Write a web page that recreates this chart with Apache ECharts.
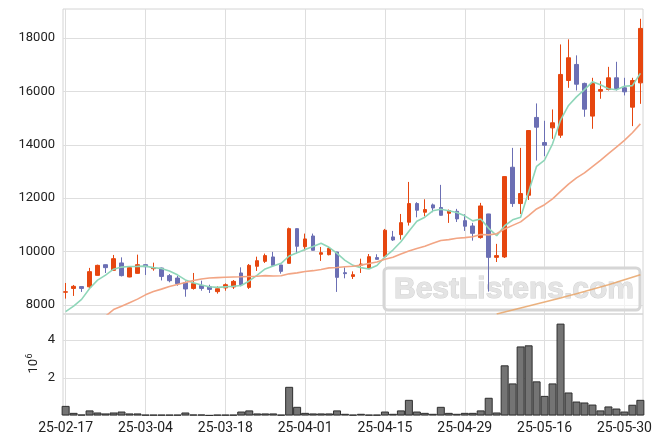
<!DOCTYPE html>
<html>
<head>
<meta charset="utf-8">
<script src="https://cdn.jsdelivr.net/npm/echarts@6/dist/echarts.min.js"></script>
<style>
html,body{margin:0;padding:0;background:#fff;}
#chart{width:663px;height:444px;}
</style>
</head>
<body>
<div id="chart"></div>
<script>
const dates = ['25-02-17','25-02-18','25-02-19','25-02-20','25-02-21','25-02-24','25-02-25','25-02-26','25-02-27','25-02-28',
'25-03-04','25-03-05','25-03-06','25-03-07','25-03-10','25-03-11','25-03-12','25-03-13','25-03-14','25-03-17',
'25-03-18','25-03-19','25-03-20','25-03-21','25-03-24','25-03-25','25-03-26','25-03-27','25-03-28','25-03-31',
'25-04-01','25-04-02','25-04-03','25-04-04','25-04-07','25-04-08','25-04-09','25-04-10','25-04-11','25-04-14',
'25-04-15','25-04-16','25-04-17','25-04-18','25-04-21','25-04-22','25-04-23','25-04-24','25-04-25','25-04-28',
'25-04-29','25-04-30','25-05-02','25-05-07','25-05-08','25-05-09','25-05-12','25-05-13','25-05-14','25-05-15',
'25-05-16','25-05-19','25-05-20','25-05-21','25-05-22','25-05-23','25-05-26','25-05-27','25-05-28','25-05-29',
'25-05-30','25-06-02','25-06-04'];

const opens = [8480,8620,8690,8680,9110,9510,9300,9575,9050,9185,
9510,9360,9385,9100,9010,8835,8620,8735,8685,8500,
8640,8675,9200,8660,9450,9635,9800,9500,9560,10860,
10185,10585,9900,9885,9985,9210,9070,9490,9385,9775,
9820,10550,10635,11100,11800,11475,11750,11650,11435,11510,
11160,10960,10525,11410,9785,9800,13160,11800,12110,15025,
14085,14635,14360,16410,17010,16300,15075,16010,16075,16510,
16135,15410,16320];
const closes = [8495,8700,8620,9250,9485,9400,9735,9100,9400,9510,
9435,9400,9070,8910,8800,8600,8800,8620,8585,8610,
8760,8885,8760,9485,9660,9850,9485,9260,10860,10200,
10475,10050,9960,10120,9035,9175,9135,9535,9810,9710,
10800,10435,11085,11800,11550,11575,11635,11360,11535,11225,
10950,10685,11710,9785,9850,12810,11800,12175,14535,14660,
13985,14825,16635,17260,16270,15335,16300,16070,16510,16110,
15985,16410,18360];
const lows = [8240,8340,8490,8620,9100,9200,9290,9070,9040,9180,
9125,9285,8920,8850,8720,8310,8575,8535,8450,8425,
8535,8600,8700,8600,9275,9575,9480,9175,9555,9925,
10045,10045,9650,9860,8490,9000,8975,9200,9350,9700,
9815,10400,10450,10975,11285,11320,11475,11350,11075,11110,
10775,10410,10485,8500,9610,9760,11675,11410,11935,13410,
13575,14225,14260,16135,16035,15050,14600,15725,16035,16035,
15850,14700,15535];
const highs = [8825,8750,8695,9390,9510,9515,9875,9785,9410,9886,
9515,9585,9400,9160,9090,8885,9200,8910,8760,8700,
8810,8935,9410,9535,9810,9925,9990,9505,10900,10870,
10675,10675,10175,10175,9990,9410,9260,9735,9910,9900,
10850,10775,11410,12610,11850,11960,11800,12500,11575,11600,
11400,11075,11825,11415,10290,12815,13885,13885,14540,15550,
14900,15325,17760,17950,17350,16330,16510,16385,16920,17110,
16510,16510,18720];
// moving averages
const ma5 = [7750,7960,8210,8620,8930,9120,9340,9420,9440,9445,
9455,9400,9370,9270,9130,8940,8830,8750,8685,8660,
8680,8700,8730,8900,9120,9350,9460,9560,9835,9960,
10080,10190,10310,10160,9930,9670,9485,9400,9350,9480,
9800,10058,10368,10766,11134,11289,11529,11584,11531,11466,
11341,11151,11221,10871,10596,10968,11191,11284,12234,13196,
13431,14036,14928,15473,15795,16065,16360,16247,16097,16065,
16195,16217,16675];
const ma20 = [null,null,null,null,null,7580,7830,7950,8085,8220,
8380,8505,8595,8695,8770,8845,8915,8975,9010,9026,
9040,9049,9056,9068,9076,9099,9086,9094,9167,9202,
9254,9286,9331,9391,9403,9432,9449,9494,9556,9611,
9713,9790,9906,10022,10117,10203,10310,10415,10449,10500,
10524,10556,10643,10627,10667,10849,10982,11114,11351,11598,
11757,11977,12254,12527,12763,12951,13185,13420,13669,13913,
14165,14451,14784];
const ma60 = [null,null,null,null,null,null,null,null,null,null,
null,null,null,null,null,null,null,null,null,null,
null,null,null,null,null,null,null,null,null,null,
null,null,null,null,null,null,null,null,null,null,
null,null,null,null,null,null,null,null,null,null,
null,null,null,null,7660,7740,7815,7890,7965,8040,
8115,8190,8265,8345,8425,8505,8590,8675,8760,8850,
8945,9040,9130];
// volume in millions
const volumes = [0.51,0.14,0.05,0.27,0.16,0.11,0.16,0.21,0.11,0.11,
0.04,0.04,0.04,0.04,0.04,0.16,0.05,0.05,0.01,0.04,
0.04,0.04,0.21,0.27,0.11,0.11,0.11,0.04,1.52,0.46,
0.14,0.11,0.11,0.11,0.27,0.09,0.04,0.09,0.04,0.04,
0.21,0.09,0.27,0.83,0.21,0.14,0.09,0.46,0.14,0.09,
0.14,0.14,0.27,0.94,0.16,2.66,1.70,3.66,3.72,1.81,
1.04,1.70,4.87,1.22,0.74,0.69,0.58,0.27,0.48,0.37,
0.21,0.57,0.83];
const xTickIdx = [0,10,20,30,40,50,60,70];
const priceTicks = [8000,10000,12000,14000,16000,18000];
const volTicks = [2,4];

const idx = dates.map((d,i)=>i);
const gridColor = '#dedede';
const font = 'Roboto, "DejaVu Sans", sans-serif';

const chart = echarts.init(document.getElementById('chart'), null, {renderer:'canvas'});
const xCommon = {
  type:'value', min:-0.33, max:72.33,
  axisLine:{show:false},
  axisTick:{show:false, customValues:xTickIdx},
  splitLine:{show:true, lineStyle:{color:gridColor, width:1}}
};
const option = {
  animation:false,
  backgroundColor:'#ffffff',
  grid:[
    {left:63, right:20, top:9, height:305, show:true, borderColor:'#d4d4d4', borderWidth:1, outerBoundsMode:'none'},
    {left:63, right:20, top:314, height:101.5, show:true, borderColor:'#d4d4d4', borderWidth:1, outerBoundsMode:'none'}
  ],
  xAxis:[
    Object.assign({}, xCommon, {gridIndex:0, axisLabel:{show:false, customValues:xTickIdx}}),
    Object.assign({}, xCommon, {gridIndex:1, axisLabel:{show:true, customValues:xTickIdx, margin:6,
      color:'#222', fontSize:14, fontFamily:font, formatter:(v)=>dates[Math.round(v)] || ''}})
  ],
  yAxis:[
    {type:'value', gridIndex:0, min:7663, max:19087, scale:true,
     axisLine:{show:false}, axisTick:{show:false, customValues:priceTicks},
     axisLabel:{customValues:priceTicks, color:'#222', fontSize:13, fontFamily:font, margin:8,
       formatter:(v)=>String(Math.round(v))},
     splitLine:{show:true, lineStyle:{color:gridColor, width:1}}},
    {type:'value', gridIndex:1, min:0, max:5.38,
     axisLine:{show:false}, axisTick:{show:false, customValues:volTicks},
     axisLabel:{customValues:volTicks, color:'#222', fontSize:13, fontFamily:font, margin:8,
       formatter:(v)=>String(Math.round(v))},
     splitLine:{show:true, lineStyle:{color:gridColor, width:1}}}
  ],
  series:[
    {type:'candlestick', xAxisIndex:0, yAxisIndex:0, barWidth:4, z:3,
     encode:{x:0, y:[1,2,3,4]},
     data: idx.map(i=>[i, opens[i], closes[i], lows[i], highs[i]]),
     itemStyle:{color:'#e6460f', color0:'#6b6fb4', borderColor:'#e6460f', borderColor0:'#6b6fb4', borderWidth:1}},
    {type:'line', xAxisIndex:0, yAxisIndex:0, symbol:'none', z:4, clip:true,
     data: idx.map(i=>[i, ma5[i]]), lineStyle:{color:'#8fd6b9', width:1.6}},
    {type:'line', xAxisIndex:0, yAxisIndex:0, symbol:'none', z:4, clip:true,
     data: idx.map(i=>[i, ma20[i]]), lineStyle:{color:'#f2a584', width:1.6}},
    {type:'line', xAxisIndex:0, yAxisIndex:0, symbol:'none', z:4, clip:true,
     data: idx.map(i=>[i, ma60[i]]), lineStyle:{color:'#e8a468', width:1.6, opacity:0.85}},
    {type:'bar', xAxisIndex:1, yAxisIndex:1, barWidth:8,
     data: idx.map(i=>[i, volumes[i]]),
     itemStyle:{color:'#747474', borderColor:'#2e2e2e', borderWidth:1}}
  ],
  graphic:[
    {type:'rect', z:1, silent:true,
     shape:{x:384, y:268, width:256, height:42, r:4},
     style:{fill:'rgba(255,255,255,0.6)', stroke:'#d6d6d6', lineWidth:3}},
    {type:'text', z:2, silent:true, x:514, y:290,
     style:{text:'BestListens.com', font:'bold 30px "Liberation Sans", Arial, sans-serif',
       fill:'#e4e4e4', stroke:'#d2d2d2', lineWidth:1, textAlign:'center', textVerticalAlign:'middle'}},
    {type:'group', x:34, y:359, rotation:Math.PI/2, silent:true, children:[
      {type:'text', x:0, y:0, style:{text:'10', font:'13px '+font, fill:'#222', textAlign:'right', textVerticalAlign:'middle'}},
      {type:'text', x:0.5, y:-4, style:{text:'6', font:'9px '+font, fill:'#222', textAlign:'left', textVerticalAlign:'middle'}}
    ]}
  ]
};
chart.setOption(option);
</script>
</body>
</html>
